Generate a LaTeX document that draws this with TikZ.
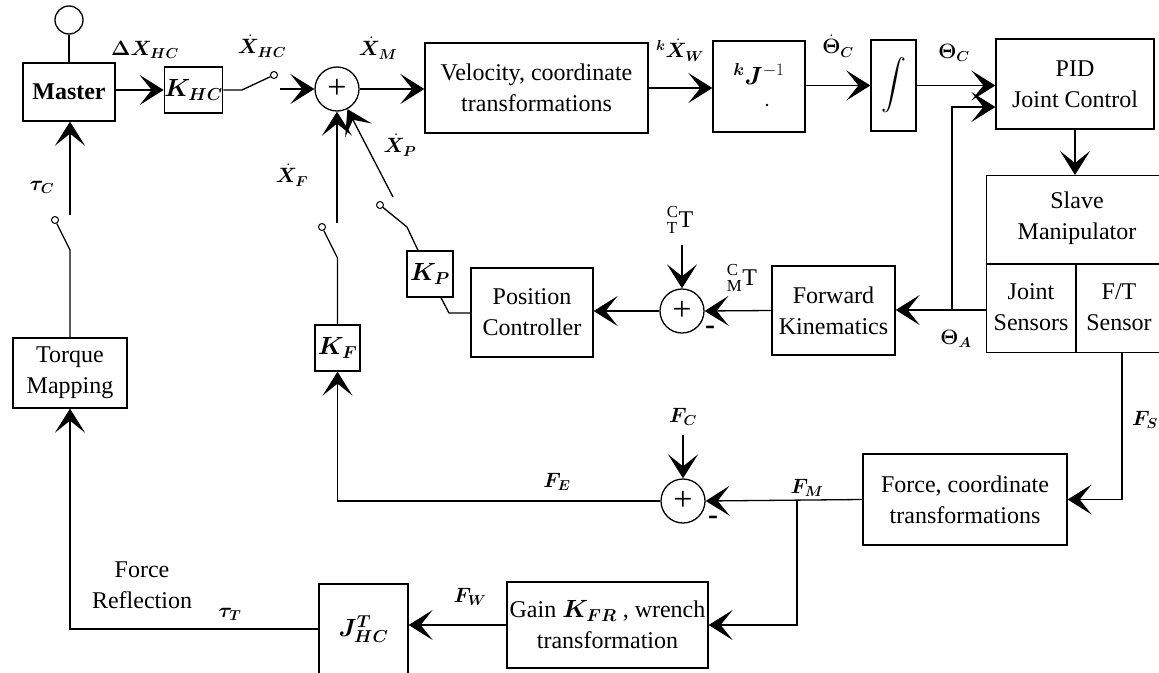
\documentclass[tikz,border=0pt]{standalone}
\usepackage{amsmath}
\usepackage{bm}
\usepackage{fontspec}
\setmainfont{Liberation Serif}
\usetikzlibrary{arrows.meta}
\begin{document}
\begin{tikzpicture}[x=1pt,y=-1pt,
  every node/.style={font=\fontsize{24}{31}\selectfont},
  box/.style={draw, line width=1.3pt, inner sep=0pt, align=center},
  lbl/.style={inner sep=0pt, font=\fontsize{21}{25}\selectfont},
  sumc/.style={draw, circle, line width=1.3pt, minimum size=44pt, inner sep=0pt, font=\fontsize{34}{34}\selectfont},
  swc/.style={draw, circle, fill=white, line width=1pt, minimum size=7pt, inner sep=0pt},
  sgn/.style={inner sep=0pt, font=\fontsize{30}{30}\selectfont\bfseries},
  arr/.style={-{Stealth[length=24pt,width=30pt,inset=12pt]}},
  line width=1.3pt]
\useasboundingbox (0,0) rectangle (1159,672);

% ---- blocks ----
\node[draw,circle,minimum size=28pt,inner sep=0pt,line width=1.3pt] (op) at (69,20) {};
\node[box,minimum width=92pt,minimum height=58pt] (master) at (69,92) {\bfseries Master};
\node[box,minimum width=47pt,minimum height=46pt] (khc) at (193.5,90) {$\bm K_{\bm{HC}}$};
\node[swc] (sw1) at (274,75) {};
\node[sumc] (sum1) at (337,89) {+};
\node[box,minimum width=223pt,minimum height=90pt] (vel) at (536.5,88) {Velocity, coordinate\\transformations};
\node[box,minimum width=92pt,minimum height=91pt] (kj) at (759,86.5) {};
\node[inner sep=0pt] (kjt) at (759,74) {$^{\bm k}\bm J^{-1}$};
\fill (767,105) circle (1.3pt);
\node[box,minimum width=45pt,minimum height=91pt] (int) at (893.5,85.5) {$\displaystyle\int$};
\node[box,minimum width=158pt,minimum height=90pt] (pid) at (1075,84) {PID\\Joint Control};

\node[box,minimum width=174pt,minimum height=177pt,anchor=north west] (slave) at (986,175) {};
\draw (986,264) -- (1160,264);
\draw (1076,264) -- (1076,352);
\node[align=center,inner sep=0pt] (slavet) at (1077,218) {Slave\\Manipulator};
\node[align=center,inner sep=0pt] (jst) at (1031,307) {Joint\\Sensors};
\node[align=center,inner sep=0pt] (ftt) at (1119,307) {F/T\\Sensor};
\coordinate (jsout) at (986,310);
\coordinate (ftout) at (1122,352);
\coordinate (br1) at (952,310);

\node[box,minimum width=123pt,minimum height=89pt] (fk) at (833.5,310.5) {Forward\\Kinematics};
\node[sumc] (sum2) at (682,311) {+};
\node[box,minimum width=122pt,minimum height=89pt] (pc) at (532,312.5) {Position\\Controller};
\node[box,minimum width=46pt,minimum height=46pt] (kp) at (430,274) {$\bm K_{\bm P}$};
\node[swc] (sw2) at (380,205) {};
\node[box,minimum width=45pt,minimum height=46pt] (kf) at (337.5,348) {$\bm K_{\bm F}$};
\node[swc] (sw3) at (322,227) {};
\node[box,minimum width=114pt,minimum height=70pt] (tm) at (70,373) {Torque\\Mapping};
\node[swc] (sw4) at (55,220) {};

\node[box,minimum width=204pt,minimum height=91pt] (force) at (965,499.5) {Force, coordinate\\transformations};
\node[sumc] (sum3) at (683,501) {+};
\node[box,minimum width=201pt,minimum height=86pt] (gain) at (607.5,625) {Gain $\bm K_{\bm{FR}}$ , wrench\\transformation};
\node[box,minimum width=89pt,minimum height=90pt] (jhc) at (363.5,629) {$\bm J^{\bm T}_{\bm{HC}}$};

% ---- connectors ----
\draw (op) -- (master);
\draw[arr] (master.east|-khc.west) -- (khc.west);
\coordinate (s1a) at (242,90);
\draw (khc.east) -- (s1a) -- (sw1);
\coordinate (s1b) at (280,89);
\draw[arr] (s1b) -- (sum1.west);
\draw[arr] (sum1.east) -- (vel.west|-sum1.east);
\draw[arr] (vel.east) -- (kj.west|-vel.east);
\draw[arr] (kj.east|-int.west) -- (int.west);
\draw[arr] (int.east) -- (pid.west|-int.east);
\draw[arr] (pid.south) -- (pid.south|-slave.north);
\draw[arr] (jsout) -- (fk.east|-jsout);
\draw[arr] (br1) |- ([yshift=-23pt]pid.west);
\draw[arr] (fk.west) -- (sum2.east);
\coordinate (ctt) at (682,245);
\draw[arr] (ctt) -- (sum2.north);
\draw[arr] (sum2.west) -- (pc.east|-sum2.west);
\coordinate (kpa) at (449,313);
\draw (pc.west|-kpa) -- (kpa) -- ([xshift=11pt]kp.south);
\coordinate (kpb) at (407,227);
\draw ([xshift=-12pt]kp.north) -- (kpb) -- (sw2);
\coordinate (xp) at (393,197);
\draw[arr] (xp) -- (sum1);
\coordinate (kfb) at (337.5,258);
\draw (kf.north) -- (kfb) -- (sw3);
\coordinate (xf) at (337,223);
\draw[arr] (xf) -- (sum1.south);
\draw[arr] (sum3.west) -| (kf.south);
\draw[arr] (force.west) -- (sum3.east);
\draw[arr] (ftout) |- (force.east);
\coordinate (fc) at (683,435);
\draw[arr] (fc) -- (sum3.north);
\coordinate (fm) at (797,501);
\draw[arr] (fm) |- (gain.east);
\draw[arr] (gain.west) -- (jhc.east|-gain.west);
\draw[arr] (jhc.west) -| (tm.south);
\coordinate (tmb) at (70,250);
\draw (tm.north) -- (tmb) -- (sw4);
\coordinate (tauc) at (70,215);
\draw[arr] (tauc) -- (tauc|-master.south);

% ---- labels ----
\node[lbl] (ldx) at (145,50) {$\bm\Delta\bm X_{\bm{HC}}$};
\node[lbl] (lxhc) at (262,46) {$\dot{\bm X}_{\bm{HC}}$};
\node[lbl] (lxm) at (378,48) {$\dot{\bm X}_{\bm M}$};
\node[lbl] (lxw) at (680,50) {$^{\bm k}\dot{\bm X}_{\bm W}$};
\node[lbl] (lthd) at (838,46) {$\dot{\bm\Theta}_{\bm C}$};
\node[lbl] (lth) at (954,53) {$\bm\Theta_{\bm C}$};
\node[lbl] (lxp) at (400,145) {$\dot{\bm X}_{\bm P}$};
\node[lbl] (lxf) at (292,175) {$\dot{\bm X}_{\bm F}$};
\node[lbl] (ltc) at (42,187) {$\bm\tau_{\bm C}$};
\node[lbl,font=\fontsize{24}{28}\selectfont] (lctt) at (680,220) {${}^{\mathrm C}_{\mathrm T}\mathrm T$};
\node[lbl,font=\fontsize{24}{28}\selectfont] (lcmt) at (742,278) {${}^{\mathrm C}_{\mathrm M}\mathrm T$};
\node[sgn] (mn1) at (710,330) {-};
\node[lbl] (lta) at (956,339) {$\bm\Theta_{\bm A}$};
\node[lbl] (lfs) at (1145,420) {$\bm F_{\bm S}$};
\node[lbl] (lfc) at (683,417) {$\bm F_{\bm C}$};
\node[lbl] (lfe) at (557,482) {$\bm F_{\bm E}$};
\node[lbl] (lfm) at (807,488) {$\bm F_{\bm M}$};
\node[sgn] (mn2) at (713,520) {-};
\node[lbl] (lfw) at (470,597) {$\bm F_{\bm W}$};
\node[lbl] (ltt) at (230,614) {$\bm\tau_{\bm T}$};
\node[align=center,inner sep=0pt] (lfr) at (142,585) {Force\\Reflection};
\end{tikzpicture}
\end{document}
